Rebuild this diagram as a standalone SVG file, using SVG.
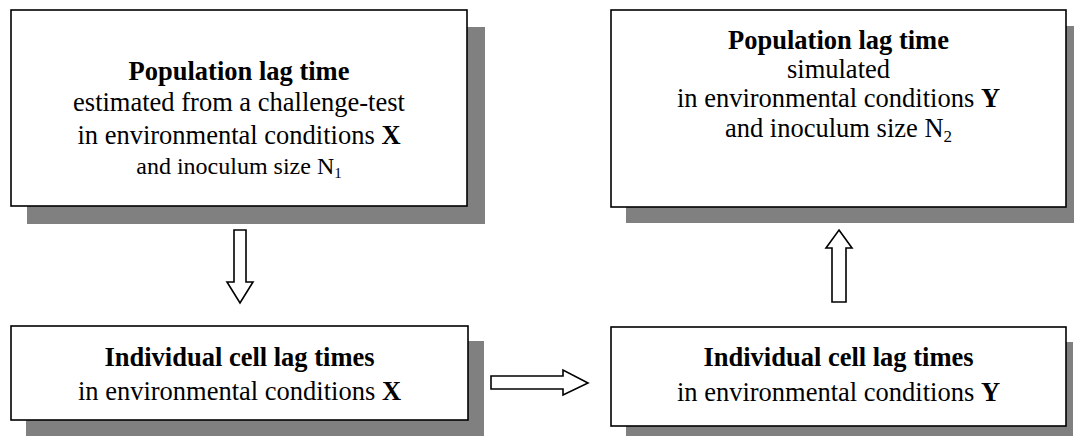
<svg xmlns="http://www.w3.org/2000/svg" width="1074" height="436" viewBox="0 0 1074 436">
<style>
.shadow{fill:#808080;stroke:none}
.box{fill:#ffffff;stroke:#000000;stroke-width:1.6}
.arrow{fill:#ffffff;stroke:#000000;stroke-width:1.6;stroke-linejoin:miter}
text{font-family:"Liberation Serif","Times New Roman",serif;fill:#000000;text-anchor:middle}
.t{font-weight:bold;font-size:26.5px}
.l{font-size:26.5px}
.s{font-size:24px}
.b{font-weight:bold}
</style>
<rect width="1074" height="436" fill="#ffffff"/>
<g id="node-pop-x">
<rect class="shadow" x="27" y="27" width="458" height="197"/>
<rect class="box" x="11" y="10" width="456" height="196"/>
<text class="t" x="239" y="80">Population lag time</text>
<text class="l" x="239" y="111">estimated from a challenge-test</text>
<text class="l" x="239" y="144">in environmental conditions <tspan class="b">X</tspan></text>
<text class="s" x="239" y="174">and inoculum size N<tspan font-size="15" dy="4">1</tspan></text>
</g>
<g id="node-pop-y">
<rect class="shadow" x="626" y="26" width="460" height="197"/>
<rect class="box" x="611" y="10" width="455" height="197"/>
<text class="t" x="838.5" y="49">Population lag time</text>
<text class="l" x="838.5" y="78">simulated</text>
<text class="l" x="838.5" y="107">in environmental conditions <tspan class="b">Y</tspan></text>
<text class="l" x="838.5" y="137">and inoculum size N<tspan font-size="17" dy="5">2</tspan></text>
</g>
<g id="node-ind-x">
<rect class="shadow" x="26" y="341" width="458" height="100"/>
<rect class="box" x="11" y="326" width="457" height="94"/>
<text class="t" x="239.5" y="366">Individual cell lag times</text>
<text class="l" x="239.5" y="400">in environmental conditions <tspan class="b">X</tspan></text>
</g>
<g id="node-ind-y">
<rect class="shadow" x="626" y="342" width="447" height="100"/>
<rect class="box" x="611" y="327" width="455" height="99"/>
<text class="t" x="838.5" y="366">Individual cell lag times</text>
<text class="l" x="838.5" y="401">in environmental conditions <tspan class="b">Y</tspan></text>
</g>
<g id="connectors">
<polygon class="arrow" points="234,230 246,230 246,282 253,282 240,303 227,282 234,282"/>
<polygon class="arrow" points="491,376 563,376 563,370 588,383 563,395 563,389 491,389"/>
<polygon class="arrow" points="839,230 852,248 846,248 846,302 832,302 832,248 826,248"/>
</g>
</svg>
